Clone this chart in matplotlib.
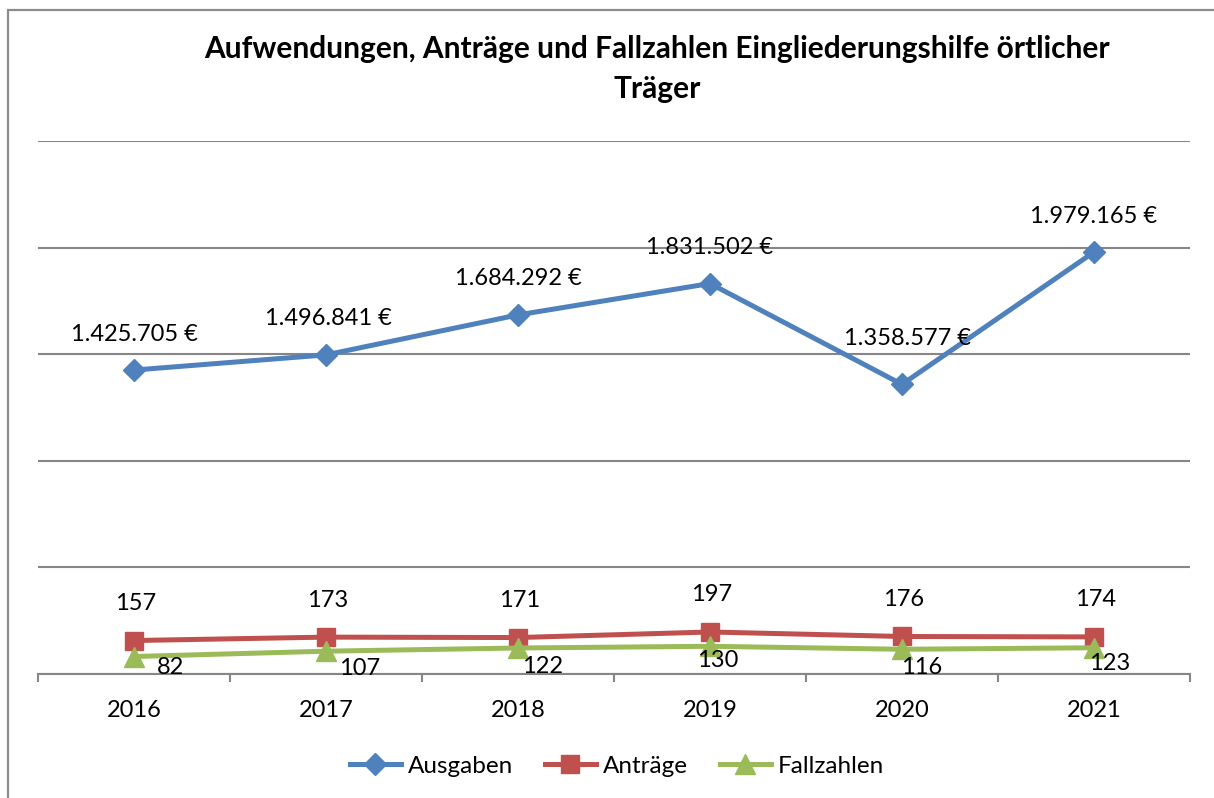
import matplotlib
matplotlib.use('Agg')
import matplotlib.pyplot as plt
from matplotlib.patches import Rectangle
from matplotlib.ticker import MultipleLocator, FixedLocator, NullFormatter

# ---- data ----
years = ['2016', '2017', '2018', '2019', '2020', '2021']
ausgaben = [1425705, 1496841, 1684292, 1831502, 1358577, 1979165]
antraege = [157, 173, 171, 197, 176, 174]
fallzahlen = [82, 107, 122, 130, 116, 123]
title = 'Aufwendungen, Anträge und Fallzahlen Eingliederungshilfe örtlicher\nTräger'

# label offsets (pixels) - styling only
aus_dx = [0, 2, 0, 0, 6, 0]
aus_dy = [36, 36, 36, 36, 46, 36]
fall_dx = [37, 34, 25, 8, 20, 16]
fall_dy = [-11, -17, -19, -14, -18, -16]

plt.rcParams['font.family'] = ['Lato', 'DejaVu Sans']

W, H = 1214, 798
fig = plt.figure(figsize=(W / 100, H / 100), dpi=100)
fig.patch.set_facecolor('white')

# outer border
fig.patches.append(Rectangle((8 / W, -0.05), 1.1, 1 - 10 / H + 0.05, transform=fig.transFigure,
                             fill=False, edgecolor='#8c8c8c', linewidth=1.6, zorder=0))

ax = fig.add_axes([38 / W, 1 - 674 / H, (1190 - 38) / W, (674 - 141) / H])
ax2 = ax.twinx()

BLUE = '#4F81BD'
RED = '#C0504D'
GREEN = '#9BBB59'
GRID = '#868686'

x = list(range(len(years)))
l1, = ax.plot(x, ausgaben, color=BLUE, lw=3.6, marker='D', ms=11, mfc=BLUE, mec=BLUE,
              label='Ausgaben', clip_on=False, zorder=5)
l2, = ax2.plot(x, antraege, color=RED, lw=3.6, marker='s', ms=13, mfc=RED, mec=RED,
               label='Anträge', clip_on=False, zorder=5)
l3, = ax2.plot(x, fallzahlen, color=GREEN, lw=3.6, marker='^', ms=14, mfc=GREEN, mec=GREEN,
               label='Fallzahlen', clip_on=False, zorder=6)

ax.set_xlim(-0.5, len(years) - 0.5)
ax.set_ylim(0, 2500000)
ax2.set_ylim(0, 2500)
ax.yaxis.set_major_locator(MultipleLocator(500000))
ax.grid(axis='y', color=GRID, lw=1.5)
ax.set_axisbelow(True)
ax.tick_params(axis='y', left=False, labelleft=False)
ax2.tick_params(axis='y', right=False, labelright=False)

for s in ['top', 'left', 'right']:
    ax.spines[s].set_visible(False)
for s in ax2.spines.values():
    s.set_visible(False)
ax.spines['bottom'].set_color(GRID)
ax.spines['bottom'].set_linewidth(1.5)

fs = 17
ax.set_xticks(x)
ax.set_xticklabels(years, fontsize=fs)
ax.tick_params(axis='x', which='major', length=0, pad=19)
ax.xaxis.set_minor_locator(FixedLocator([i - 0.5 for i in range(len(years) + 1)]))
ax.xaxis.set_minor_formatter(NullFormatter())
ax.tick_params(axis='x', which='minor', length=6, width=1.5, color=GRID, direction='out')

px = 0.72
for i, v in enumerate(ausgaben):
    lab = f'{v:,}'.replace(',', '.') + ' €'
    ax.annotate(lab, (x[i], v), xytext=(aus_dx[i] * px, aus_dy[i] * px), textcoords='offset points',
                ha='center', va='center', fontsize=fs, color='black', zorder=7)
for i, v in enumerate(antraege):
    ax2.annotate(str(v), (x[i], v), xytext=(2 * px, 37 * px), textcoords='offset points',
                 ha='center', va='center', fontsize=fs, color='black', zorder=7)
for i, v in enumerate(fallzahlen):
    ax2.annotate(str(v), (x[i], v), xytext=(fall_dx[i] * px, fall_dy[i] * px), textcoords='offset points',
                 ha='center', va='center', fontsize=fs, color='black', zorder=8)

fig.text(657 / W, 1 - 69 / H, title, ha='center', va='center', fontsize=21.5,
         fontweight='bold', linespacing=1.5)

fig.legend([l1, l2, l3], ['Ausgaben', 'Anträge', 'Fallzahlen'], loc='center',
           bbox_to_anchor=(617 / W, 1 - 766 / H), ncol=3, frameon=False, fontsize=17.5,
           handlelength=2.1, handletextpad=0.3, columnspacing=1.3)

fig.savefig('out.png', dpi=100, facecolor='white')
